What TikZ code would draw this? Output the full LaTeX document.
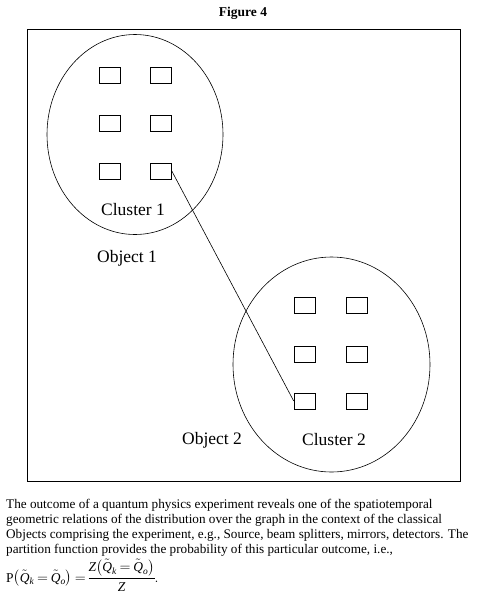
\documentclass[tikz,border=0pt]{standalone}
\usepackage{amsmath,amssymb}
\usepackage{fontspec}
\setmainfont{Liberation Serif}
\usepackage{tikz}
\usetikzlibrary{positioning,shapes.geometric}

\newcommand{\qk}{\tilde{\textit{Q}}_{\textit{k}}}
\newcommand{\qo}{\tilde{\textit{Q}}_{\textit{o}}}

\tikzset{
  cell/.style={draw,line width=0.6pt,minimum width=21pt,minimum height=16pt,inner sep=0pt},
  cluster/.style={draw,ellipse,line width=0.6pt,inner sep=0pt},
  lbl/.style={font=\fontsize{17.5}{20}\selectfont}
}

\begin{document}
\begin{tikzpicture}[x=1pt,y=-1pt]
\useasboundingbox (0,0) rectangle (477,600);
\node[font=\bfseries\fontsize{13.5}{15}\selectfont] (title) at (243,13) {Figure 4};
\draw[line width=1pt] (27,29) rectangle (460,481);
% first cluster
\node[cluster,minimum width=176pt,minimum height=200pt] (cl1) at (135,134.5) {};
\node[cell] (a11) at (109.5,75.5) {};
\node[cell] (a12) at (161,75.5) {};
\node[cell] (a21) at (109.5,123) {};
\node[cell] (a22) at (161,123) {};
\node[cell] (a31) at (109.5,171) {};
\node[cell] (a32) at (161,171) {};
\node[lbl] (cl1name) at (133,210) {Cluster 1};
\node[lbl] (ob1name) at (127,258) {Object 1};
% second cluster
\node[cluster,minimum width=197pt,minimum height=215pt] (cl2) at (331.5,364.5) {};
\node[cell] (b11) at (304.5,305) {};
\node[cell] (b12) at (356.5,305) {};
\node[cell] (b21) at (304.5,354) {};
\node[cell] (b22) at (356.5,354) {};
\node[cell] (b31) at (304.5,401) {};
\node[cell] (b32) at (356.5,401) {};
\node[lbl] (cl2name) at (334,440) {Cluster 2};
\node[lbl] (ob2name) at (212,440) {Object 2};
\draw[line width=0.6pt] (a32.east) -- (b31.west);
% caption
\node[anchor=base west,align=left,inner sep=0pt,font=\fontsize{13.2}{14.7}\selectfont] (caption) at (6,553)
 {The outcome of a quantum physics experiment reveals one of the spatiotemporal\\
  geometric relations of the distribution over the graph in the context of the classical\\
  Objects comprising the experiment, e.g., Source, beam splitters, mirrors, detectors. The\\
  partition function provides the probability of this particular outcome, i.e.,};
\node[anchor=base west,inner sep=0pt,font=\fontsize{13.5}{15}\selectfont] (formula) at (6,582)
 {\thickmuskip=3.5mu\nulldelimiterspace=0pt
  $\mathrm{P}\bigl(\qk=\qo\bigr)=\dfrac{\textit{Z}\bigl(\qk=\qo\bigr)}{\textit{Z}}.$};
\end{tikzpicture}
\end{document}
